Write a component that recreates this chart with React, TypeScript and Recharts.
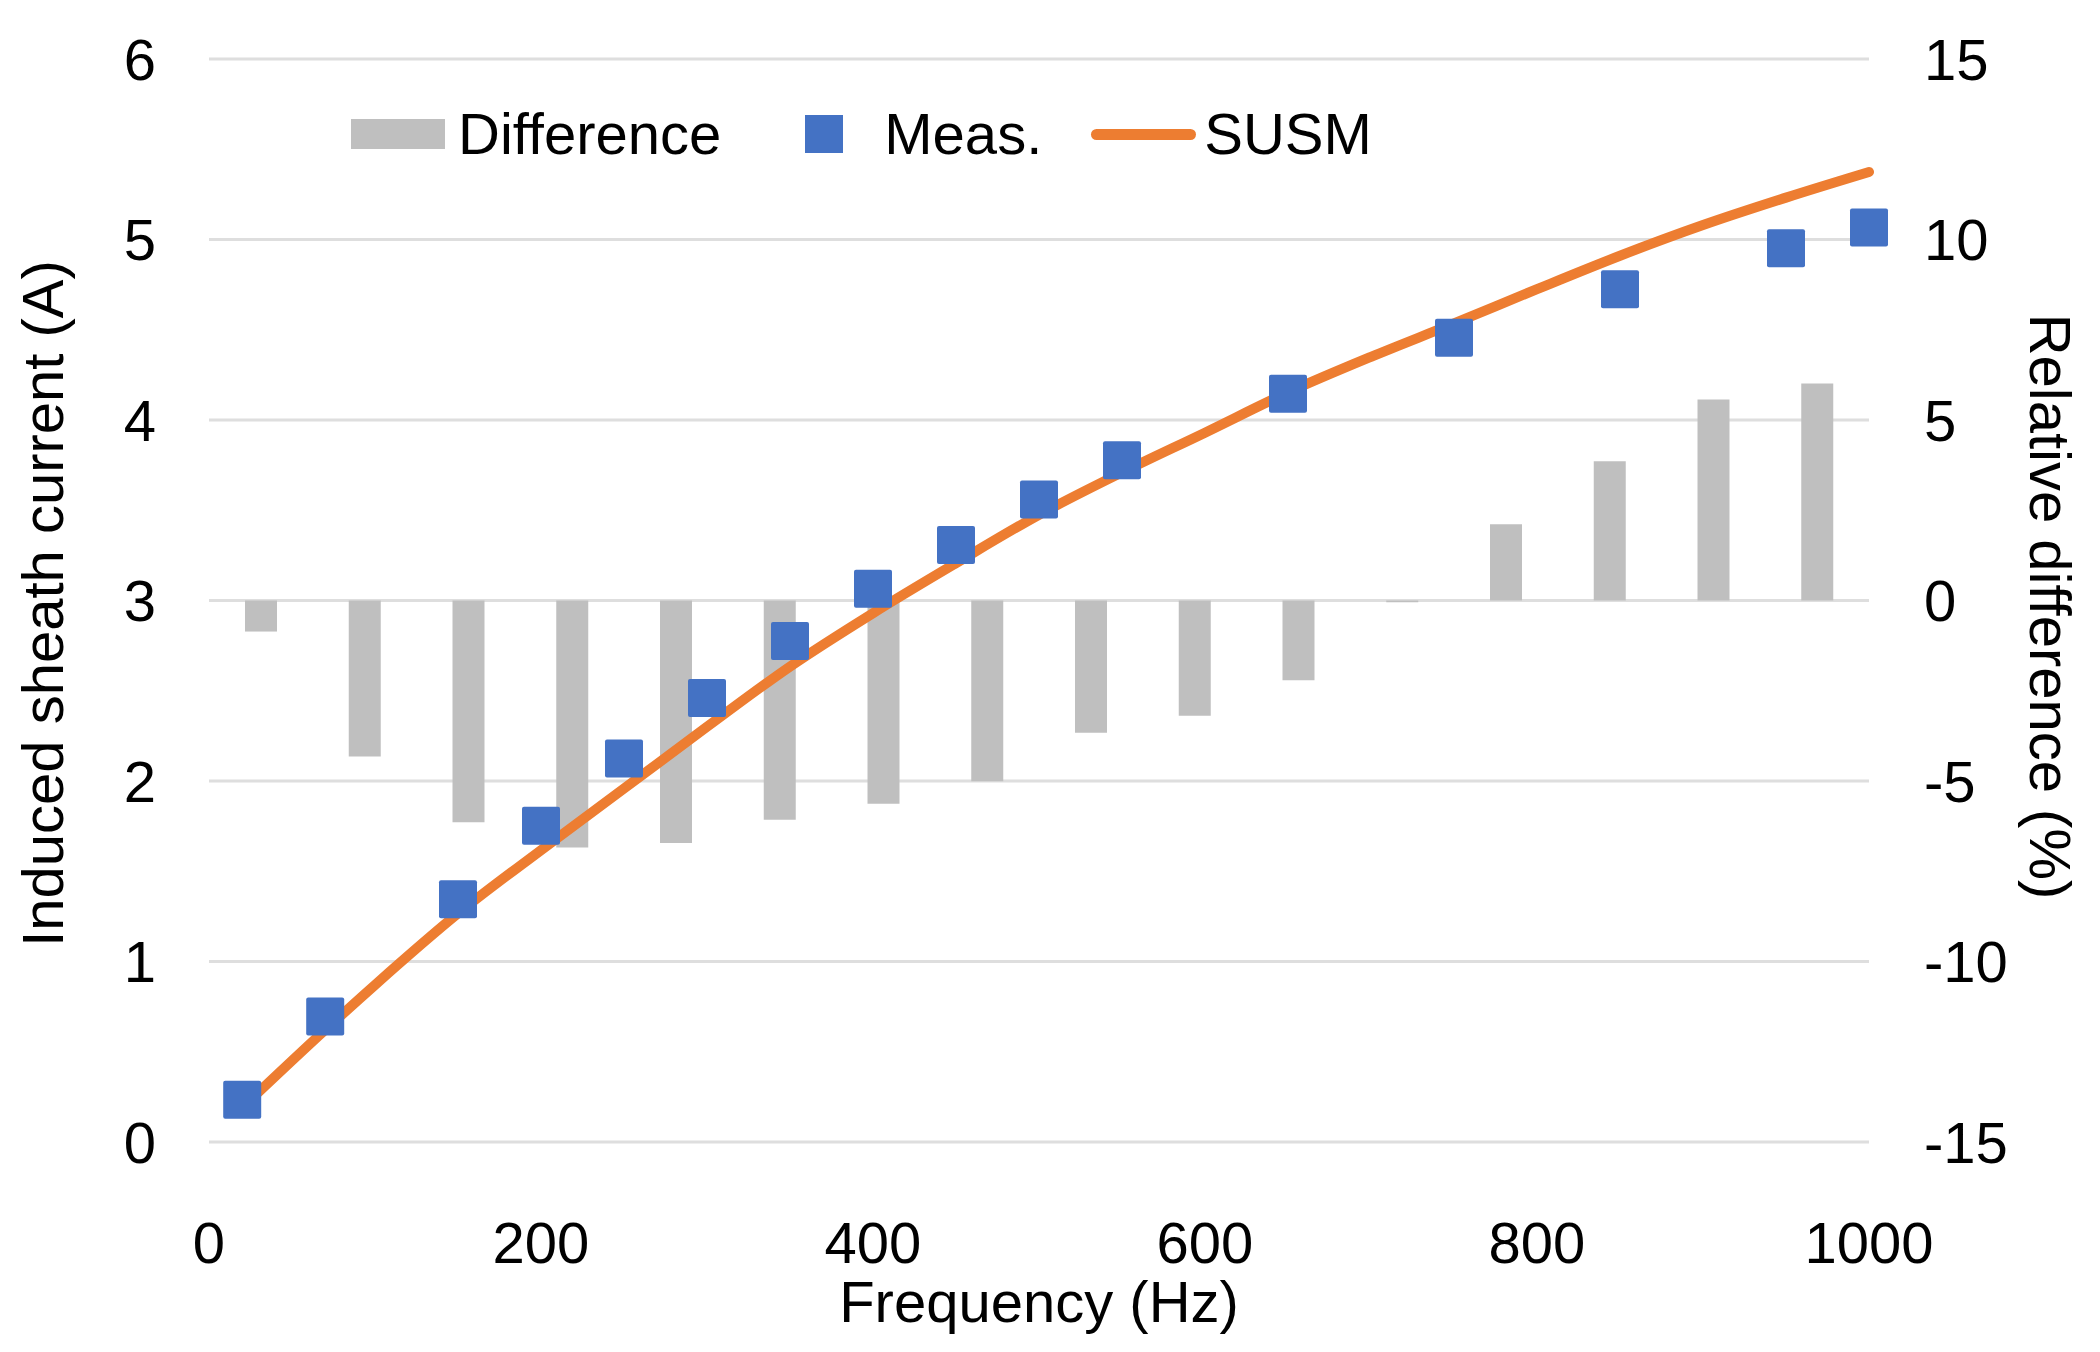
import React from 'react';
import {
  ComposedChart,
  Bar,
  Line,
  Scatter,
  XAxis,
  YAxis,
  CartesianGrid,
  Legend,
} from 'recharts';

// measurement frequencies (Hz)
const freqs = [20, 70, 150, 200, 250, 300, 350, 400, 450, 500, 550, 650, 750, 850, 950, 1000];
// measured induced sheath current (A)
const meas = [0.234, 0.695, 1.345, 1.752, 2.125, 2.46, 2.775, 3.065, 3.307, 3.56, 3.777, 4.146, 4.456, 4.725, 4.952, 5.067];
// relative difference (%)
const diff = [-0.86, -4.32, -6.14, -6.84, -6.72, -6.07, -5.63, -5.01, -3.66, -3.19, -2.21, -0.05, 2.11, 3.86, 5.57, 6.01];

// SUSM model curve
const susmFreqs = [25, 70, 100, 150, 200, 250, 300, 350, 400, 450, 500, 550, 600, 650, 700, 750, 800, 850, 900, 950, 1000];
const susm = [0.234, 0.621, 0.87, 1.266, 1.617, 1.958, 2.3, 2.634, 2.93, 3.207, 3.475, 3.71, 3.93, 4.153, 4.35, 4.535, 4.725, 4.91, 5.08, 5.232, 5.374];

const xTicks = [0, 200, 400, 600, 800, 1000];
const leftTicks = [0, 1, 2, 3, 4, 5, 6];
const rightTicks = [-15, -10, -5, 0, 5, 10, 15];

const data = freqs.map((f, i) => ({ idx: i, f, meas: meas[i], diff: diff[i] }));
const susmData = susmFreqs.map((f, i) => ({ f, susm: susm[i] }));

const FONT = 58;
const CHART_H = 1352;

const squareShape = (p: any) => (
  <rect x={p.cx - 19} y={p.cy - 19} width={38} height={38} rx={2} fill="#4472C4" />
);

const BottomTitle = (props: any) => {
  const { viewBox } = props;
  const x = viewBox.x + viewBox.width / 2;
  // baseline sits 30px above the bottom edge of the chart
  const y = CHART_H - 30;
  return (
    <text x={x} y={y} textAnchor="middle" fontSize={FONT} fill="#000">
      Frequency (Hz)
    </text>
  );
};

const LeftTitle = (props: any) => {
  const { viewBox } = props;
  const x = viewBox.x + 63;
  const y = viewBox.y + viewBox.height / 2 + 3;
  return (
    <text x={x} y={y} transform={`rotate(-90, ${x}, ${y})`} textAnchor="middle" fontSize={FONT} fill="#000">
      Induced sheath current (A)
    </text>
  );
};

const RightTitle = (props: any) => {
  const { viewBox } = props;
  const x = viewBox.x + 161;
  const y = viewBox.y + viewBox.height / 2 + 6;
  return (
    <text x={x} y={y} transform={`rotate(90, ${x}, ${y})`} textAnchor="middle" fontSize={FONT} fill="#000">
      Relative difference (%)
    </text>
  );
};

const LegendContent = () => (
  <div style={{ display: 'flex', alignItems: 'center', fontSize: FONT, color: '#000', lineHeight: '66px', whiteSpace: 'nowrap' }}>
    <span style={{ width: 94, height: 30, background: '#BFBFBF', marginRight: 13 }} />
    <span style={{ marginRight: 84 }}>Difference</span>
    <span style={{ width: 38, height: 38, background: '#4472C4', marginRight: 41 }} />
    <span style={{ marginRight: 49 }}>Meas.</span>
    <span style={{ width: 105, height: 11, background: '#ED7D31', borderRadius: 6, marginRight: 8 }} />
    <span>SUSM</span>
  </div>
);

export default function App() {
  return (
    <div
      style={{
        position: 'absolute',
        left: 0,
        top: 0,
        width: 2100,
        height: CHART_H,
        background: '#fff',
        fontFamily: '"Liberation Sans", Arial, sans-serif',
      }}
    >
      <ComposedChart width={2100} height={CHART_H} data={data} margin={{ top: 59, right: 0, bottom: 0, left: 0 }}>
        <CartesianGrid xAxisId="num" yAxisId="left" vertical={false} stroke="#DEDEDE" strokeWidth={3} />
        <XAxis xAxisId="cat" dataKey="idx" type="category" hide />
        <XAxis
          xAxisId="num"
          dataKey="f"
          type="number"
          domain={[0, 1000]}
          ticks={xTicks}
          height={210}
          axisLine={false}
          tickLine={false}
          tickSize={0}
          tickMargin={50}
          tick={{ fontSize: FONT, fill: '#000' }}
          label={BottomTitle}
        />
        <YAxis
          yAxisId="left"
          orientation="left"
          type="number"
          domain={[0, 6]}
          ticks={leftTicks}
          width={209}
          axisLine={false}
          tickLine={false}
          tickSize={0}
          tickMargin={53}
          tick={{ fontSize: FONT, fill: '#000' }}
          label={LeftTitle}
        />
        <YAxis
          yAxisId="right"
          orientation="right"
          type="number"
          domain={[-15, 15]}
          ticks={rightTicks}
          width={231}
          axisLine={false}
          tickLine={false}
          tickSize={0}
          tickMargin={55}
          tick={{ fontSize: FONT, fill: '#000' }}
          label={RightTitle}
        />
        <Legend
          layout="horizontal"
          verticalAlign="middle"
          align="center"
          content={LegendContent}
          wrapperStyle={{ left: 351, top: 101, width: 'auto', height: 'auto' }}
        />
        <Bar xAxisId="cat" yAxisId="right" dataKey="diff" fill="#BFBFBF" barSize={32} isAnimationActive={false} />
        <Line
          xAxisId="num"
          yAxisId="left"
          data={susmData}
          dataKey="susm"
          type="monotone"
          stroke="#ED7D31"
          strokeWidth={10}
          strokeLinecap="round"
          dot={false}
          activeDot={false}
          isAnimationActive={false}
        />
        <Scatter xAxisId="num" yAxisId="left" dataKey="meas" shape={squareShape} isAnimationActive={false} />
      </ComposedChart>
    </div>
  );
}
